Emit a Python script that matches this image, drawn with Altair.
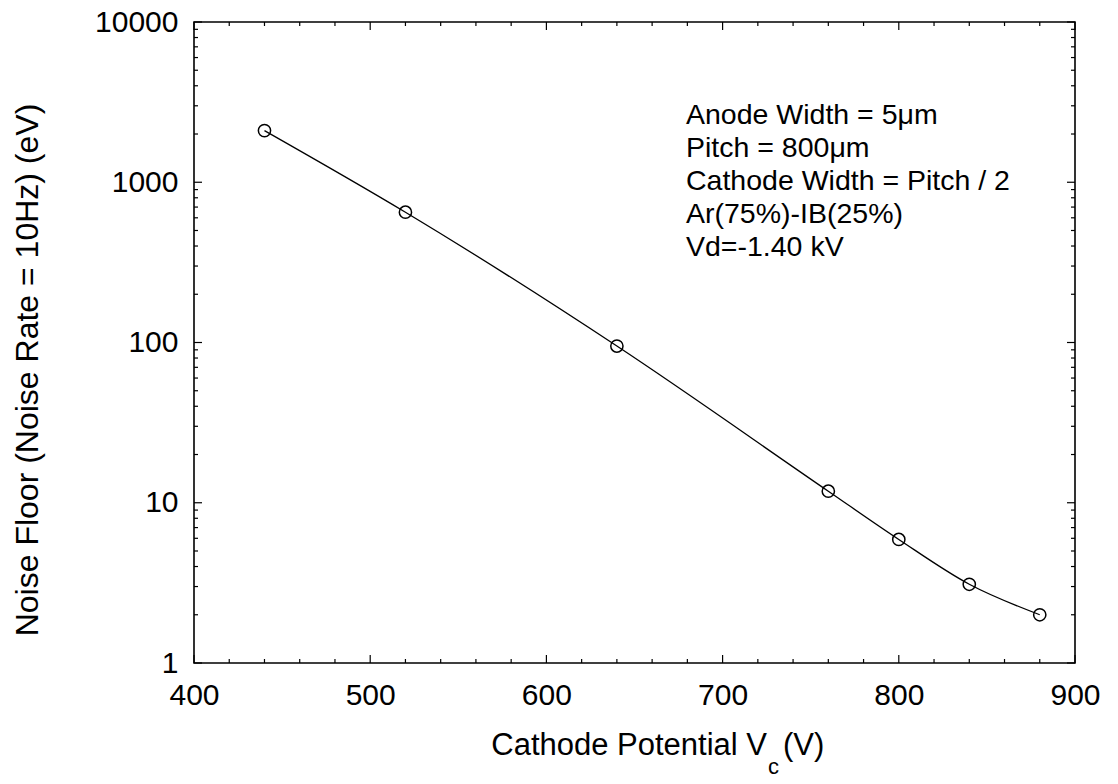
import altair as alt
import pandas as pd

# ---- data ----
cathode_v = [440, 520, 640, 760, 800, 840, 880]
noise_floor_ev = [2100, 650, 95, 11.8, 5.9, 3.1, 2.0]

x_major = [400, 500, 600, 700, 800, 900]
x_minor = [v for v in range(420, 900, 20) if v % 100 != 0]
y_major = [1, 10, 100, 1000, 10000]
y_minor = [m * d for d in [1, 10, 100, 1000] for m in range(2, 10)]

annotation_lines = [
    "Anode Width = 5\u03bcm",
    "Pitch = 800\u03bcm",
    "Cathode Width = Pitch / 2",
    "Ar(75%)-IB(25%)",
    "Vd=-1.40 kV",
]
x_title_main = "Cathode Potential V"
x_title_sub = "c"
x_title_unit = "(V)"
y_title = "Noise Floor (Noise Rate = 10Hz) (eV)"

# ---- layout ----
W, H = 881, 641
FONT = "Liberation Sans"
MAJ, MIN = 8, 4

xs = alt.Scale(domain=[400, 900], nice=False, zero=False)
ys = alt.Scale(type="log", domain=[1, 10000], nice=False)

x_axis = alt.Axis(values=x_major, format="d", ticks=False, grid=False, domain=False,
                  labelFlush=False, labelPadding=17, labelFontSize=30, labelFont=FONT,
                  labelColor="black", title=None, labelOverlap=False)
y_axis = alt.Axis(values=y_major, format="d", ticks=False, grid=False, domain=False,
                  labelFlush=False, labelPadding=16, labelFontSize=30, labelFont=FONT,
                  labelColor="black", title=None, labelOverlap=False)


def X():
    return alt.X("v:Q", scale=xs, axis=x_axis)


def Y():
    return alt.Y("n:Q", scale=ys, axis=y_axis)


df = pd.DataFrame({"v": cathode_v, "n": noise_floor_ev})

line = alt.Chart(df).mark_line(color="black", strokeWidth=1.3, interpolate="monotone").encode(x=X(), y=Y())
pts = alt.Chart(df).mark_point(shape="circle", filled=False, color="black", size=150,
                               strokeWidth=1.5, opacity=1).encode(x=X(), y=Y())

ymaj = pd.DataFrame({"n": y_major})
ymin = pd.DataFrame({"n": y_minor})
xmaj = pd.DataFrame({"v": x_major})
xmin = pd.DataFrame({"v": x_minor})

tick_layers = []
for d, ln in [(ymaj, MAJ), (ymin, MIN)]:
    tick_layers.append(alt.Chart(d).mark_rule(color="black", strokeWidth=1.2).encode(
        y=Y(), x=alt.value(0), x2=alt.value(ln)))
    tick_layers.append(alt.Chart(d).mark_rule(color="black", strokeWidth=1.2).encode(
        y=Y(), x=alt.value(W), x2=alt.value(W - ln)))
for d, ln in [(xmaj, MAJ), (xmin, MIN)]:
    tick_layers.append(alt.Chart(d).mark_rule(color="black", strokeWidth=1.2).encode(
        x=X(), y=alt.value(H), y2=alt.value(H - ln)))
    tick_layers.append(alt.Chart(d).mark_rule(color="black", strokeWidth=1.2).encode(
        x=X(), y=alt.value(0), y2=alt.value(ln)))

one = pd.DataFrame({"a": [0]})
note = alt.Chart(pd.DataFrame({"t": ["\n".join(annotation_lines)]})).mark_text(
    align="left", baseline="alphabetic", lineBreak="\n", lineHeight=33,
    fontSize=28.5, font=FONT, color="black").encode(text="t:N", x=alt.value(492), y=alt.value(102))

xt1 = alt.Chart(one).mark_text(align="right", baseline="alphabetic", fontSize=31, font=FONT,
                               color="black").encode(text=alt.value(x_title_main),
                                                     x=alt.value(573), y=alt.value(733))
xt2 = alt.Chart(one).mark_text(align="left", baseline="alphabetic", fontSize=22, font=FONT,
                               color="black").encode(text=alt.value(x_title_sub),
                                                     x=alt.value(574), y=alt.value(752))
xt3 = alt.Chart(one).mark_text(align="left", baseline="alphabetic", fontSize=31, font=FONT,
                               color="black").encode(text=alt.value(x_title_unit),
                                                     x=alt.value(589), y=alt.value(733))
yt = alt.Chart(one).mark_text(align="center", baseline="middle", angle=270, fontSize=32,
                              font=FONT, color="black").encode(text=alt.value(y_title),
                                                               x=alt.value(-166), y=alt.value(348))

chart = alt.layer(line, pts, *tick_layers, note, xt1, xt2, xt3, yt).properties(
    width=W, height=H,
    autosize=alt.AutoSizeParams(type="none"),
    padding={"left": 194, "top": 22, "right": 43, "bottom": 121},
    background="white",
).configure_view(stroke="black", strokeWidth=1.6)

chart.save("out.html", embed_options={"renderer": "svg", "actions": False})
